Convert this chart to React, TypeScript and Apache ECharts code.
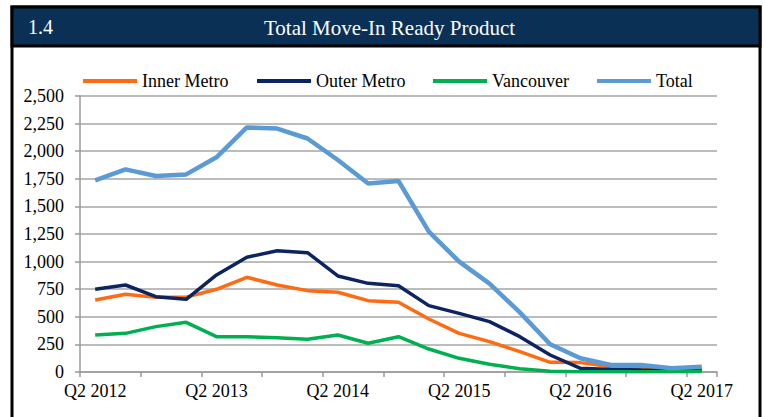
import React, { useEffect, useRef } from "react";
import * as echarts from "echarts";

const categories = [
  "Q2 2012", "Q3 2012", "Q4 2012", "Q1 2013",
  "Q2 2013", "Q3 2013", "Q4 2013", "Q1 2014",
  "Q2 2014", "Q3 2014", "Q4 2014", "Q1 2015",
  "Q2 2015", "Q3 2015", "Q4 2015", "Q1 2016",
  "Q2 2016", "Q3 2016", "Q4 2016", "Q1 2017",
  "Q2 2017",
];

const innerMetro = [652, 704, 676, 678, 749, 858, 788, 737, 722, 646, 631, 480, 350, 275, 184, 88, 85, 48, 40, 25, 20];
const outerMetro = [749, 788, 682, 658, 879, 1039, 1099, 1081, 870, 803, 782, 601, 531, 456, 320, 154, 33, 22, 18, 15, 22];
const vancouver = [335, 350, 411, 450, 320, 320, 311, 296, 335, 260, 320, 208, 124, 70, 30, 6, 3, 3, 3, 3, 5];
const total = [1735, 1835, 1775, 1790, 1945, 2215, 2205, 2115, 1920, 1708, 1730, 1271, 1000, 800, 540, 251, 124, 63, 63, 33, 48];

const yTicks = { min: 0, max: 2500, interval: 250 };

const FONT = "'Liberation Serif', 'Times New Roman', serif";

const seriesDefs = [
  { name: "Inner Metro", data: innerMetro, color: "#FF6A13", width: 3.5, legendLeft: 83 },
  { name: "Outer Metro", data: outerMetro, color: "#0C2461", width: 3.5, legendLeft: 257 },
  { name: "Vancouver", data: vancouver, color: "#00B050", width: 3.5, legendLeft: 433 },
  { name: "Total", data: total, color: "#5B9BD5", width: 4.5, legendLeft: 597 },
];

export default function App() {
  const ref = useRef<HTMLDivElement>(null);

  useEffect(() => {
    if (!ref.current) return;
    const chart = echarts.init(ref.current, undefined, { renderer: "svg" });
    const option: any = {
      animation: false,
      backgroundColor: "#ffffff",
      graphic: [
        {
          type: "rect",
          z: -10,
          shape: { x: 12, y: 7, width: 748, height: 420 },
          style: { fill: "#ffffff", stroke: "#000000", lineWidth: 3 },
          silent: true,
        },
        {
          type: "rect",
          z: -9,
          shape: { x: 12, y: 7, width: 748, height: 39 },
          style: { fill: "#0B3055", stroke: "#000000", lineWidth: 3 },
          silent: true,
        },
        {
          type: "text",
          left: 28,
          top: 17,
          style: { text: "1.4", fill: "#ffffff", font: `20px ${FONT}` },
        },
        {
          type: "text",
          left: 264,
          top: 17,
          style: {
            text: "Total Move-In Ready Product",
            fill: "#ffffff",
            font: `21px ${FONT}`,
          },
        },
      ],
      legend: seriesDefs.map((s) => ({
        data: [s.name],
        left: s.legendLeft,
        top: 72,
        icon: "rect",
        itemWidth: 54,
        itemHeight: 4,
        padding: 0,
        textStyle: { fontFamily: FONT, fontSize: 18, color: "#000000", padding: [0, 0, 0, 0] },
      })),
      grid: { left: 80, right: 47, top: 96, bottom: 45, containLabel: false },
      xAxis: {
        type: "category",
        data: categories,
        boundaryGap: true,
        axisLine: { lineStyle: { color: "#9a9a9a", width: 1.5 } },
        axisTick: { show: true, interval: 1, length: 5, lineStyle: { color: "#9a9a9a", width: 1.5 } },
        axisLabel: {
          interval: 3,
          fontFamily: FONT,
          fontSize: 18,
          color: "#000000",
          margin: 10,
        },
        splitLine: { show: false },
      },
      yAxis: {
        type: "value",
        min: yTicks.min,
        max: yTicks.max,
        interval: yTicks.interval,
        axisLine: { show: true, lineStyle: { color: "#9a9a9a", width: 1.5 } },
        axisTick: { show: true, length: 5, lineStyle: { color: "#9a9a9a", width: 1.5 } },
        axisLabel: {
          fontFamily: FONT,
          fontSize: 18,
          color: "#000000",
          margin: 16,
          formatter: (v: number) => v.toLocaleString("en-US"),
        },
        splitLine: { show: true, lineStyle: { color: "#a6a6a6", width: 1.5 } },
      },
      series: seriesDefs.map((s) => ({
        name: s.name,
        type: "line",
        data: s.data,
        symbol: "none",
        color: s.color,
        lineStyle: { color: s.color, width: s.width },
      })),
    };
    chart.setOption(option);
    return () => chart.dispose();
  }, []);

  return (
    <div
      ref={ref}
      style={{ position: "fixed", left: 0, top: 0, width: 764, height: 417 }}
    />
  );
}
